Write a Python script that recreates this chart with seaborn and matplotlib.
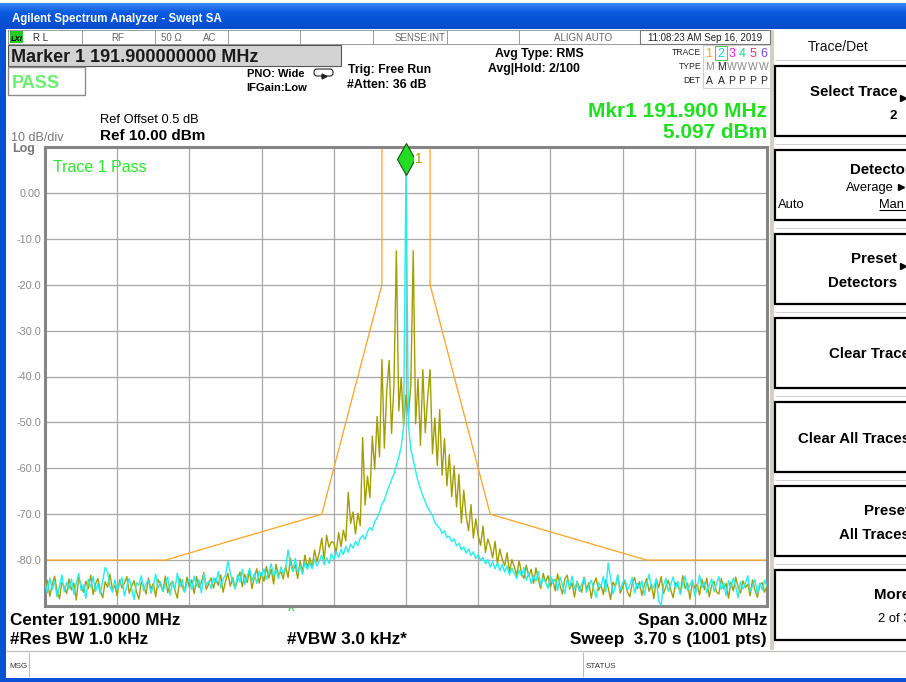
import numpy as np
import pandas as pd
import matplotlib
matplotlib.use("Agg")
import matplotlib.pyplot as plt
import matplotlib.patches as mpatches
import matplotlib.transforms as mtransforms
from matplotlib.colors import LinearSegmentedColormap
import seaborn as sns

# ------------------------------------------------------------------ data
center_mhz = 191.9
span_mhz = 3.0
x_divisions = 10

trace1_dbm = [
    -86.0, -84.4, -87.9, -85.3, -83.5, -86.7, -88.4, -84.9, -85.8, -87.3,
    -84.1, -86.5, -85.0, -88.7, -83.8, -85.6, -87.0, -84.6, -86.2, -83.3,
    -87.5, -85.2, -84.0, -86.8, -88.2, -84.7, -85.9, -83.1, -86.4, -85.5,
    -87.8, -84.3, -86.1, -85.0, -83.6, -87.2, -85.7, -84.5, -86.9, -88.5,
    -84.8, -85.6, -87.4, -83.9, -86.3, -85.1, -88.0, -84.2, -85.4, -86.8,
    -83.5, -87.1, -85.3, -84.6, -86.6, -88.3, -84.0, -85.8, -86.9, -83.7,
    -85.9, -84.3, -87.3, -83.6, -86.0, -84.8, -82.7, -86.4, -85.2, -83.9,
    -86.1, -84.0, -85.5, -83.2, -87.0, -84.6, -82.9, -85.7, -83.8, -86.0,
    -84.4, -82.6, -85.8, -83.1, -84.9, -82.3, -86.2, -83.7, -81.9, -85.0,
    -82.8, -84.6, -81.4, -83.9, -82.0, -85.2, -80.9, -83.3, -82.5, -84.1,
    -81.3, -83.8, -79.6, -82.4, -81.0, -84.0, -80.2, -82.7, -78.9, -81.8,
    -79.5, -81.6, -77.8, -80.4, -78.3, -75.2, -79.8, -74.6, -77.2, -76.0,
    -76.2, -78.4, -74.0, -77.1, -73.5, -75.8, -65.2, -72.0, -69.5, -74.3,
    -69.8, -72.5, -53.3, -68.0, -61.7, -66.4, -53.0, -60.2, -48.7, -57.5,
    -36.3, -55.6, -43.0, -36.5, -52.4, -41.8, -12.6, -47.5, -40.2, -50.8,
    -44.0,
    -48.5, -42.0, -12.6, -50.3, -40.5, -55.0, -38.5, -52.2, -44.6, -38.5,
    -56.8, -49.0, -59.4, -47.2, -61.5, -53.5, -63.8, -57.0, -66.2, -59.5,
    -68.4, -61.3, -71.9, -64.8, -70.5, -73.6, -67.9, -75.2, -71.0, -74.7,
    -76.8, -72.6, -78.3, -75.4, -77.0, -79.5, -75.9, -80.8, -77.6, -79.9,
    -81.2, -78.4, -82.6, -79.9, -81.5, -83.3, -80.2, -82.8, -84.0, -81.1,
    -83.5, -82.0, -85.1, -81.7, -84.3, -86.2, -82.9, -84.8, -83.4, -85.9,
    -84.2, -86.7, -83.0, -85.5, -87.4, -84.1, -83.3, -86.3, -85.0, -88.1,
    -84.6, -85.8, -87.0, -83.7, -86.4, -84.9, -88.3, -85.2, -83.9, -86.6,
    -85.4, -87.5, -84.3, -86.0, -88.6, -84.8, -85.7, -83.5, -87.2, -85.9,
    -84.5, -86.9, -88.0, -85.1, -83.8, -86.3, -84.7, -87.7, -85.5, -84.0,
    -86.8, -85.3, -88.4, -84.1, -86.0, -83.6, -87.3, -85.8, -84.4, -86.5,
    -88.2, -84.9, -85.6, -87.1, -83.4, -86.2, -85.0, -88.5, -84.7, -86.1,
    -85.3, -87.6, -84.2, -86.4, -83.9, -88.0, -85.5, -84.6, -86.9, -87.4,
    -84.0, -86.3, -85.1, -88.3, -84.8, -86.7, -83.7, -85.9, -87.2, -84.5,
    -86.0, -85.2, -87.8, -84.3, -86.6, -88.1, -85.4, -84.9, -87.0, -85.6,
]

trace2_dbm = [
    -85.2, -87.1, -83.9, -86.4, -84.6, -88.0, -85.7, -83.2, -86.9, -84.8,
    -86.3, -84.1, -87.5, -85.0, -82.9, -86.6, -85.4, -88.3, -84.2, -85.9,
    -83.6, -86.8, -85.1, -87.4, -84.5, -81.6, -82.6, -85.8, -87.0, -84.3,
    -86.5, -85.2, -83.8, -87.8, -85.6, -84.0, -86.2, -88.6, -84.9, -85.5,
    -83.4, -86.7, -85.0, -84.4, -87.2, -85.8, -83.1, -86.1, -84.7, -86.9,
    -85.3, -83.7, -87.6, -84.8, -86.3, -82.8, -85.9, -84.2, -87.0, -85.1,
    -84.0, -86.4, -83.5, -85.7, -84.3, -87.1, -83.0, -85.4, -84.6, -86.2,
    -83.8, -85.0, -82.5, -86.0, -84.1, -83.3, -80.2, -82.9, -84.7, -86.3,
    -83.2, -84.8, -82.0, -85.3, -83.6, -81.8, -84.5, -83.0, -85.1, -82.4,
    -83.7, -81.9, -84.2, -82.6, -80.8, -83.5, -82.1, -84.0, -81.5, -83.0,
    -81.7, -77.8, -80.9, -82.5, -79.6, -82.8, -81.2, -83.1, -80.4, -82.0,
    -80.6, -81.9, -79.8, -81.3, -80.2, -78.9, -81.0, -79.5, -80.7, -78.6,
    -79.9, -78.2, -79.4, -77.6, -78.8, -77.0, -78.3, -76.5, -77.4, -75.9,
    -76.8, -75.2, -74.6, -75.5, -73.8, -72.9, -73.5, -71.6, -70.8, -69.5,
    -67.8, -66.9, -65.3, -63.8, -62.5, -61.2, -59.4, -57.6, -55.3, -51.0,
    5.1,
    -50.5, -55.8, -58.2, -60.5, -62.9, -64.4, -66.0, -67.3, -68.6, -69.4,
    -70.2, -71.8, -72.5, -73.0, -74.2, -73.6, -75.1, -74.8, -76.0, -75.4,
    -76.9, -76.3, -77.8, -77.1, -78.5, -77.6, -79.0, -78.2, -79.7, -78.8,
    -80.1, -79.4, -80.8, -79.9, -81.5, -80.3, -81.9, -80.6, -82.3, -81.0,
    -82.6, -81.3, -83.2, -81.8, -82.9, -84.0, -82.2, -83.5, -81.6, -84.4,
    -82.8, -85.1, -83.3, -84.6, -82.5, -85.5, -83.9, -84.8, -86.2, -83.4,
    -85.0, -84.1, -86.6, -83.7, -85.4, -87.3, -84.2, -85.9, -83.5, -86.4,
    -84.7, -86.8, -85.3, -83.9, -87.0, -85.6, -84.4, -86.3, -88.1, -84.9,
    -85.8, -83.6, -86.9, -80.6, -84.0, -87.4, -85.7, -83.2, -86.5, -85.0,
    -84.3, -86.6, -85.4, -83.8, -87.2, -85.0, -86.1, -84.5, -87.6, -85.2,
    -83.1, -86.3, -85.7, -84.2, -88.9, -89.8, -85.5, -84.0, -86.8, -85.3,
    -83.7, -86.2, -84.6, -87.5, -85.1, -83.5, -86.7, -85.4, -84.3, -87.8,
    -85.9, -83.3, -86.0, -84.8, -87.1, -85.5, -84.1, -86.9, -85.2, -83.6,
    -86.4, -85.0, -87.7, -84.5, -86.1, -83.9, -85.8, -88.2, -84.7, -86.3,
    -85.1, -83.4, -86.8, -85.6, -84.2, -87.3, -85.0, -86.5, -84.4, -85.7,
]

limit_offset_khz = [-1500, -1000, -350, -100, -100, 100, 100, 350, 1000, 1500]
limit_dbm = [-80, -80, -70, -20, 9.7, 9.7, -20, -70, -80, -80]

marker_mhz = 191.9
marker_dbm = 5.097

y_ticks = [-90, -80, -70, -60, -50, -40, -30, -20, -10, 0, 10]
y_tick_labels = ['', '-80.0', '-70.0', '-60.0', '-50.0', '-40.0',
                 '-30.0', '-20.0', '-10.0', '0.00', '']

# ------------------------------------------------------------------ style
sns.set_theme(style="white")
plt.rcParams['font.family'] = ['Liberation Sans', 'DejaVu Sans']

OLIVE = '#A39E00'
CYAN = '#22EEEE'
ORANGE = '#FFA31F'
GREEN = '#1EE01E'

W, H = 906, 682
fig = plt.figure(figsize=(W / 100, H / 100), dpi=100)
fig.patch.set_facecolor('white')

# UI overlay in pixel coordinates
ui = fig.add_axes([0, 0, 1, 1])
ui.set_zorder(0)
ui.axis('off')


def T(x, y, s, size, weight='normal', color='black', ha='left', va='baseline', **kw):
    ui.text(x, y, s, fontsize=size, fontweight=weight, color=color,
            ha=ha, va=va, **kw)


def R(x, y, w, h, fc='none', ec='none', lw=0, **kw):
    ui.add_patch(mpatches.Rectangle((x, y), w, h, facecolor=fc, edgecolor=ec,
                                    linewidth=lw, **kw))


def L(xs, ys, color='black', lw=1.0, **kw):
    ui.plot(xs, ys, color=color, lw=lw, solid_capstyle='butt', **kw)


# title bar gradient
grad_cmap = LinearSegmentedColormap.from_list(
    'xp', ['#3C8AF6', '#0C5CE2', '#0852D8', '#0A4CCB'])
grad = np.linspace(0, 1, 60).reshape(-1, 1)
ui.imshow(grad, cmap=grad_cmap, extent=(0, W, 29, 3), aspect='auto',
          origin='upper', zorder=1)
T(12, 22, 'Agilent Spectrum Analyzer - Swept SA', 8.3, 'bold', 'white', zorder=3)

# window borders
R(0, 29, 6, H - 29, fc='#0A50D6', zorder=2)
R(0, 678, W, 4, fc='#0A50D6', zorder=2)

# status row
R(8, 30, 762, 14, fc='white', ec='#9A9A9A', lw=0.7, zorder=2)
for xd in [82, 155, 228, 300, 373, 447, 519]:
    L([xd, xd], [30, 44], color='#9A9A9A', lw=0.7, zorder=3)
R(640, 30, 130, 14, fc='white', ec='#777777', lw=0.8, zorder=3)
R(10, 31, 13, 12, fc='#22CC22', zorder=3)
T(16.5, 41, 'LXI', 5.5, 'bold', 'black', ha='center', style='italic', zorder=4)
T(33, 41, 'R L', 7, 'normal', '#333333', zorder=4)
T(118, 41, 'RF', 7, 'normal', '#666666', ha='center', zorder=4)
T(161, 41, '50 Ω', 7, 'normal', '#666666', zorder=4)
T(203, 41, 'AC', 7, 'normal', '#666666', zorder=4)
T(445, 41, 'SENSE:INT', 7, 'normal', '#666666', ha='right', zorder=4)
T(583, 41, 'ALIGN AUTO', 7, 'normal', '#666666', ha='center', zorder=4)
T(705, 41, '11:08:23 AM Sep 16, 2019', 7, 'normal', '#222222', ha='center', zorder=4)

# marker readout box
R(8, 45, 333, 21, fc='#D3D3D3', ec='#555555', lw=0.8, zorder=2)
T(11, 62, 'Marker 1 191.900000000 MHz', 13, 'bold', '#1A1A1A', zorder=3)

# PASS box
R(8, 67, 77, 28, fc='white', ec='#8C8C8C', lw=1.0, zorder=2)
T(12, 88, 'PASS', 13, 'bold', '#6CEF6C', zorder=3)

T(247, 77, 'PNO: Wide', 8, 'bold', 'black', zorder=3)
ui.add_patch(mpatches.FancyBboxPatch((314, 69), 19, 7,
             boxstyle='round,pad=0,rounding_size=3', fc='white', ec='#222222',
             lw=0.8, zorder=3))
ui.plot([324], [76], marker='>', ms=3.5, color='#222222', zorder=4)
T(246, 91, 'IFGain:Low', 8, 'bold', 'black', zorder=3)

T(348, 73, 'Trig: Free Run', 8.8, 'bold', 'black', zorder=3)
T(347, 88, '#Atten: 36 dB', 8.8, 'bold', 'black', zorder=3)

T(539, 57, 'Avg Type: RMS', 8.8, 'bold', 'black', ha='center', zorder=3)
T(488, 72, 'Avg|Hold: 2/100', 8.8, 'bold', 'black', zorder=3)

# trace table
T(701, 55, 'TRACE', 6.2, 'normal', '#222222', ha='right', zorder=3)
T(701, 69, 'TYPE', 6.2, 'normal', '#222222', ha='right', zorder=3)
T(701, 83, 'DET', 6.2, 'normal', '#222222', ha='right', zorder=3)
R(703, 45, 67, 43, fc='none', ec='#CFCFCF', lw=0.7, zorder=3)
trace_x = [709, 721, 732, 742, 753, 764]
trace_cols = ['#FFA31A', '#10D8D8', '#E020E0', '#22D890', '#F0306A', '#8044FF']
for i, (tx, tc) in enumerate(zip(trace_x, trace_cols)):
    T(tx, 57, str(i + 1), 9, 'normal', tc, ha='center', zorder=4)
R(715, 46, 12, 14, fc='none', ec='#33BB33', lw=0.6, zorder=4)
for tx, s, c in zip(trace_x, ['M', 'M', 'W', 'W', 'W', 'W'],
                    ['#888888', '#222222', '#888888', '#888888', '#888888', '#888888']):
    T(tx, 70, s, 7.5, 'normal', c, ha='center', zorder=4)
for tx, s in zip(trace_x, ['A', 'A', 'P', 'P', 'P', 'P']):
    T(tx, 84, s, 7.5, 'normal', '#222222', ha='center', zorder=4)

# reference info
T(100, 123, 'Ref Offset 0.5 dB', 9.3, 'normal', 'black', zorder=3)
T(100, 140, 'Ref 10.00 dBm', 11, 'bold', 'black', zorder=3)
T(11, 141, '10 dB/div', 9, 'normal', '#777777', zorder=3)
T(12, 152, 'Log', 9, 'bold', '#777777', zorder=3)

T(767, 117, 'Mkr1 191.900 MHz', 15, 'bold', GREEN, ha='right', zorder=3)
T(767, 138, '5.097 dBm', 15, 'bold', GREEN, ha='right', zorder=3)

# bottom annotation lines
BT = 12.3
T(10, 625, 'Center 191.9000 MHz', BT, 'bold', 'black', zorder=3)
T(10, 644, '#Res BW 1.0 kHz', BT, 'bold', 'black', zorder=3)
T(287, 644, '#VBW 3.0 kHz*', BT, 'bold', 'black', zorder=3)
T(767, 625, 'Span 3.000 MHz', BT, 'bold', 'black', ha='right', zorder=3)
T(767, 644, 'Sweep  3.70 s (1001 pts)', BT, 'bold', 'black', ha='right', zorder=3)
T(291, 614, '^', 8, 'bold', '#22DD22', ha='center', zorder=3)

# status bar
L([6, W], [651, 651], color='#BBBBBB', lw=0.8, zorder=3)
L([583, 583], [652, 677], color='#BBBBBB', lw=0.8, zorder=3)
L([29, 29], [652, 677], color='#BBBBBB', lw=0.8, zorder=3)
T(9, 668, 'MSG', 5.8, 'normal', '#333333', zorder=3)
T(586, 668, 'STATUS', 5.8, 'normal', '#333333', zorder=3)

# softkey panel
R(770, 30, 4, 620, fc='#D4D0C4', zorder=2)
T(838, 51, 'Trace/Det', 10, 'normal', '#111111', ha='center', zorder=3)
box_tops = [66, 150, 234, 318, 402, 486, 570]
for bt in box_tops:
    R(775, bt, 140, 70, fc='white', ec='black', lw=1.6, zorder=3)
    L([775, W], [bt - 6, bt - 6], color='#D0D0D0', lw=0.7, zorder=2)
SK = 10.8
T(897, 96, 'Select Trace', SK, 'bold', 'black', ha='right', zorder=4)
T(897, 119, '2', 9.5, 'bold', 'black', ha='right', zorder=4)
ui.plot([903], [98], marker='>', ms=5, color='black', zorder=4)
T(911, 174, 'Detector', SK, 'bold', 'black', ha='right', zorder=4)
T(894, 191, 'Average', 9.3, 'normal', 'black', ha='right', zorder=4)
ui.plot([900.5], [187], marker='>', ms=5, color='black', zorder=4)
T(778, 208, 'Auto', 9.3, 'normal', 'black', zorder=4)
T(879, 208, 'Man', 9.3, 'normal', 'black', zorder=4)
L([879, W], [210, 210], color='black', lw=0.8, zorder=4)
T(897, 263, 'Preset', SK, 'bold', 'black', ha='right', zorder=4)
T(897, 287, 'Detectors', SK, 'bold', 'black', ha='right', zorder=4)
ui.plot([903], [266], marker='>', ms=5, color='black', zorder=4)
T(910, 358, 'Clear Trace', SK, 'bold', 'black', ha='right', zorder=4)
T(910, 443, 'Clear All Traces', SK, 'bold', 'black', ha='right', zorder=4)
T(910, 515, 'Preset', SK, 'bold', 'black', ha='right', zorder=4)
T(910, 539, 'All Traces', SK, 'bold', 'black', ha='right', zorder=4)
T(910, 599, 'More', SK, 'bold', 'black', ha='right', zorder=4)
T(910, 622, '2 of 3', 9.3, 'normal', 'black', ha='right', zorder=4)

ui.set_xlim(0, W)
ui.set_ylim(H, 0)

# ------------------------------------------------------------------ plot axes
px_l, px_r, px_t, px_b = 45, 767, 147, 606
ax = fig.add_axes([px_l / W, 1 - px_b / H, (px_r - px_l) / W, (px_b - px_t) / H])
ax.set_zorder(5)
ax.set_facecolor('white')

f_start = center_mhz - span_mhz / 2
f_stop = center_mhz + span_mhz / 2

df_traces = pd.concat([
    pd.DataFrame({'freq': np.linspace(f_start, f_stop, len(trace1_dbm)),
                  'level': trace1_dbm, 'trace': 'Trace 1'}),
    pd.DataFrame({'freq': np.linspace(f_start, f_stop, len(trace2_dbm)),
                  'level': trace2_dbm, 'trace': 'Trace 2'}),
], ignore_index=True)
df_limit = pd.DataFrame({'freq': center_mhz + np.array(limit_offset_khz) / 1000.0,
                         'level': limit_dbm})

sns.lineplot(data=df_limit, x='freq', y='level', color=ORANGE, lw=0.9,
             estimator=None, sort=False, ax=ax, zorder=2)
sns.lineplot(data=df_traces, x='freq', y='level', hue='trace',
             hue_order=['Trace 1', 'Trace 2'],
             palette={'Trace 1': OLIVE, 'Trace 2': CYAN},
             estimator=None, sort=False, lw=1.0, legend=False, ax=ax, zorder=3)

ax.set_xlim(f_start, f_stop)
ax.set_ylim(y_ticks[0], y_ticks[-1])
ax.set_xticks(np.linspace(f_start, f_stop, x_divisions + 1))
ax.set_xticklabels([])
ax.set_yticks(y_ticks)
ax.set_yticklabels(y_tick_labels, color='#8A8A8A', fontsize=7.8)
ax.tick_params(axis='both', length=0, pad=3)
ax.grid(True, color='#A8A8A8', lw=0.9)
ax.set_axisbelow(True)
ax.set_xlabel('')
ax.set_ylabel('')
for sp in ax.spines.values():
    sp.set_color('#858585')
    sp.set_linewidth(2.2)
    sp.set_visible(True)

# marker diamond above the peak point
mk_tr = mtransforms.offset_copy(ax.transData, fig=fig, x=0, y=11, units='dots')
ax.plot([marker_mhz], [marker_dbm], marker='d', ms=16, mfc='#22DD22',
        mec='#1E4E1E', mew=0.8, transform=mk_tr, clip_on=False, zorder=6)
lbl_tr = mtransforms.offset_copy(ax.transData, fig=fig, x=9, y=11, units='dots')
ax.text(marker_mhz, marker_dbm, '1', transform=lbl_tr, color=OLIVE, fontsize=10,
        ha='left', va='center', zorder=6,
        bbox=dict(facecolor='white', edgecolor='none', pad=0.5))

ax.text(0.011, 0.972, 'Trace 1 Pass', transform=ax.transAxes, color='#2AE82A',
        fontsize=11.5, ha='left', va='top', zorder=6)

fig.savefig('out.png', dpi=100, facecolor='white')
